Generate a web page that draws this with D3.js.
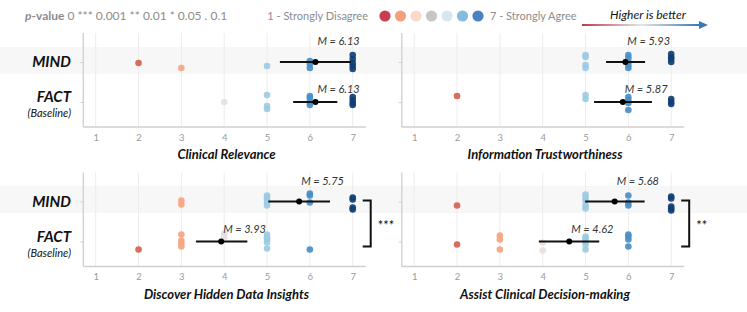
<!DOCTYPE html>
<html>
<head>
<meta charset="utf-8">
<script src="https://cdn.jsdelivr.net/npm/d3@7"></script>
<style>
  body { margin: 0; background: #fff; }
  svg { display: block; font-family: Lato, "Open Sans", sans-serif; }
</style>
</head>
<body>
<svg id="chart" width="747" height="312"></svg>
<script>
// Likert ratings and the two conditions
var ratings = [1, 2, 3, 4, 5, 6, 7];
var conditions = ['MIND', 'FACT'];
var measures = ['Clinical Relevance', 'Information Trustworthiness',
  'Discover Hidden Data Insights', 'Assist Clinical Decision-making'];

// responses per measure: [rating, vertical jitter (-1..1)]
var clinicalMind = [[2, .1], [3, .6], [5, .4], [6, -.1], [6, .2], [6, .6], [7, -.7], [7, -.3], [7, .1], [7, .4], [7, .7]];
var clinicalFact = [[4, 0], [5, -.7], [5, .4], [5, .7], [6, -.6], [6, -.4], [6, 0], [6, .3], [7, -.5], [7, -.2], [7, .1], [7, .3]];
var trustMind = [[5, -.7], [5, -.5], [5, .3], [5, .6], [6, -.7], [6, -.4], [6, 0], [6, .3], [6, .6], [7, -.8], [7, -.5], [7, -.3], [7, 0]];
var trustFact = [[2, -.6], [5, -.7], [5, -.3], [6, -.5], [6, -.2], [6, .1], [6, .8], [7, -.3], [7, 0], [7, .2]];
var insightMind = [[3, -.1], [3, .3], [5, -.6], [5, -.4], [5, -.2], [5, .1], [5, .4], [6, -.8], [6, -.6], [6, .1], [7, -.4], [7, -.2], [7, .6], [7, .8]];
var insightFact = [[2, .8], [3, -.7], [3, -.1], [3, .2], [3, .5], [4, -.8], [4, -.4], [5, -.7], [5, -.4], [5, -.2], [5, .1], [5, .7], [6, .8]];
var decisionMind = [[2, .4], [5, -.7], [5, -.4], [5, -.1], [5, .4], [5, .7], [6, -.6], [6, .1], [6, .4], [7, -.5], [7, -.3], [7, .5], [7, .7], [7, .9]];
var decisionFact = [[2, .3], [3, -.6], [3, -.2], [3, .8], [4, .1], [4, .9], [5, -.5], [5, -.3], [5, 0], [5, .3], [5, .8], [6, -.7], [6, -.5], [6, -.2], [6, .5]];

// means and interval ends, [MIND, FACT]
var means = [[6.13, 6.13], [5.93, 5.87], [5.75, 3.93], [5.68, 4.62]];
var lower = [[5.30, 5.61], [5.48, 5.20], [5.03, 3.34], [4.99, 3.91]];
var upper = [[6.96, 6.64], [6.39, 6.55], [6.47, 4.54], [6.38, 5.32]];
var significance = [null, null, '***', '**'];

var pointColor = d3.scaleOrdinal().domain(ratings)
  .range(['#b2182b', '#d6604d', '#f4a582', '#e8e0dc', '#9ccbe3', '#4a8ec6', '#103f75']);
var legendColor = ['#c8404f', '#f2a07e', '#fcd9c8', '#c6c6c6', '#d5e7f1', '#83bcdc', '#4a82bf'];

var responses = [[clinicalMind, clinicalFact], [trustMind, trustFact],
  [insightMind, insightFact], [decisionMind, decisionFact]];

var svg = d3.select('#chart');

// legend
var legend = svg.append('g').attr('fill', '#8c8c8c');
var pv = legend.append('text').attr('x', 25).attr('y', 20).style('font-size', '12px');
pv.append('tspan').attr('font-weight', 'bold').attr('font-style', 'italic').text('p');
pv.append('tspan').attr('font-weight', 'bold').text('-value');
pv.append('tspan').text(' 0 *** 0.001 ** 0.01 * 0.05 . 0.1');
legend.append('text').attr('x', 368).attr('y', 20).attr('text-anchor', 'end').style('font-size', '11px')
  .text('1 - Strongly Disagree');
var lx = d3.scalePoint().domain(ratings).range([385, 478]);
legend.selectAll('circle').data(ratings).enter().append('circle')
  .attr('cx', function (d) { return lx(d); }).attr('cy', 16).attr('r', 5.6)
  .attr('fill', function (d, i) { return legendColor[i]; });
legend.append('text').attr('x', 490).attr('y', 20).style('font-size', '11px').text('7 - Strongly Agree');

var defs = svg.append('defs');
var grad = defs.append('linearGradient').attr('id', 'better');
grad.append('stop').attr('offset', '0%').attr('stop-color', '#c0394b');
grad.append('stop').attr('offset', '50%').attr('stop-color', '#e6e6e6');
grad.append('stop').attr('offset', '100%').attr('stop-color', '#3a78b5');
svg.append('text').attr('x', 648).attr('y', 19).attr('text-anchor', 'middle')
  .attr('font-style', 'italic').style('font-size', '12px').attr('fill', '#111').text('Higher is better');
svg.append('rect').attr('x', 582).attr('y', 24).attr('width', 118).attr('height', 2).attr('fill', 'url(#better)');
svg.append('path').attr('d', 'M699,21 L708,25 L699,29 Z').attr('fill', '#3a78b5');

// shaded MIND bands, full width
[62, 201].forEach(function (y) {
  svg.append('rect').attr('x', 0).attr('y', y - 15).attr('width', 747).attr('height', 27).attr('fill', '#f7f7f7');
});

var jitter = d3.scaleLinear().domain([-1, 1]).range([-10, 10]);

measures.forEach(function (title, m) {
  var col = m % 2, row = Math.floor(m / 2);
  var dx = col * 318.5, dy = row * 139.5;
  var x = d3.scaleLinear().domain([1, 7]).range([95.7 + dx, 352.7 + dx]);
  var y = d3.scalePoint().domain(conditions).range([62 + dy, 102 + dy]);
  var top = 33 + dy, bottom = 127 + dy, left = 83.3 + dx, right = 365.7 + dx;
  var g = svg.append('g');

  g.selectAll('.grid').data(ratings).enter().append('line')
    .attr('x1', function (d) { return x(d); }).attr('x2', function (d) { return x(d); })
    .attr('y1', top).attr('y2', bottom).attr('stroke', '#ececec').attr('stroke-width', 1);

  var xAxis = g.append('g').attr('transform', 'translate(0,' + bottom + ')')
    .call(d3.axisBottom(x).tickValues(ratings).tickFormat(d3.format('d')).tickSize(0).tickPadding(7));
  xAxis.select('.domain').remove();
  xAxis.selectAll('text').attr('fill', '#9a9a9a').style('font-size', '9.5px').style('font-family', 'Lato, sans-serif');
  g.append('line').attr('x1', left).attr('x2', right).attr('y1', bottom).attr('y2', bottom)
    .attr('stroke', '#cfcfcf').attr('stroke-width', 1.3);

  var yAxis = g.append('g').attr('transform', 'translate(' + left + ',0)')
    .call(d3.axisLeft(y).tickSize(3).tickFormat(''));
  yAxis.select('.domain').attr('d', 'M0,' + top + 'V' + bottom).attr('stroke', '#cfcfcf').attr('stroke-width', 1.3);
  yAxis.selectAll('.tick line').attr('stroke', '#cfcfcf');

  g.append('text').attr('x', (left + right) / 2 + 2).attr('y', bottom + 32).attr('text-anchor', 'middle')
    .attr('font-weight', 'bold').attr('font-style', 'italic').style('font-size', '13px').attr('fill', '#111')
    .text(title);

  if (col === 0) {
    g.append('text').attr('x', 71).attr('y', y('MIND') + 5).attr('text-anchor', 'end')
      .attr('font-weight', 'bold').attr('font-style', 'italic').style('font-size', '15px').attr('fill', '#111').text('MIND');
    g.append('text').attr('x', 71).attr('y', y('FACT')).attr('text-anchor', 'end')
      .attr('font-weight', 'bold').attr('font-style', 'italic').style('font-size', '15px').attr('fill', '#111').text('FACT');
    g.append('text').attr('x', 71).attr('y', y('FACT') + 15).attr('text-anchor', 'end')
      .attr('font-style', 'italic').style('font-size', '11px').attr('fill', '#111').text('(Baseline)');
  }

  conditions.forEach(function (c, k) {
    g.append('g').selectAll('circle').data(responses[m][k]).enter().append('circle')
      .attr('cx', function (d) { return x(d[0]); })
      .attr('cy', function (d) { return y(c) + jitter(d[1]); })
      .attr('r', 3.3).attr('fill', function (d) { return pointColor(d[0]); }).attr('fill-opacity', 0.92);

    g.append('line').attr('x1', x(lower[m][k])).attr('x2', x(upper[m][k]))
      .attr('y1', y(c)).attr('y2', y(c)).attr('stroke', '#111').attr('stroke-width', 1.8);
    g.append('circle').attr('cx', x(means[m][k])).attr('cy', y(c)).attr('r', 3).attr('fill', '#000');
    g.append('text').attr('x', x(means[m][k]) + 2).attr('y', y(c) - (k === 0 ? 17 : 9))
      .attr('font-style', 'italic').style('font-size', '11px').attr('fill', '#333')
      .text('M = ' + means[m][k].toFixed(2));
  });

  if (significance[m]) {
    var y1 = y('MIND') - 1, y2 = y('FACT') + 5, bx = right + 5;
    g.append('path').attr('d', 'M' + (right - 3) + ',' + y1 + 'H' + bx + 'V' + y2 + 'H' + (right - 3))
      .attr('fill', 'none').attr('stroke', '#111').attr('stroke-width', 2);
    g.append('text').attr('x', bx + 7).attr('y', (y1 + y2) / 2 + 6)
      .style('font-size', '13px').attr('fill', '#111').text(significance[m]);
  }
});
</script>
</body>
</html>
